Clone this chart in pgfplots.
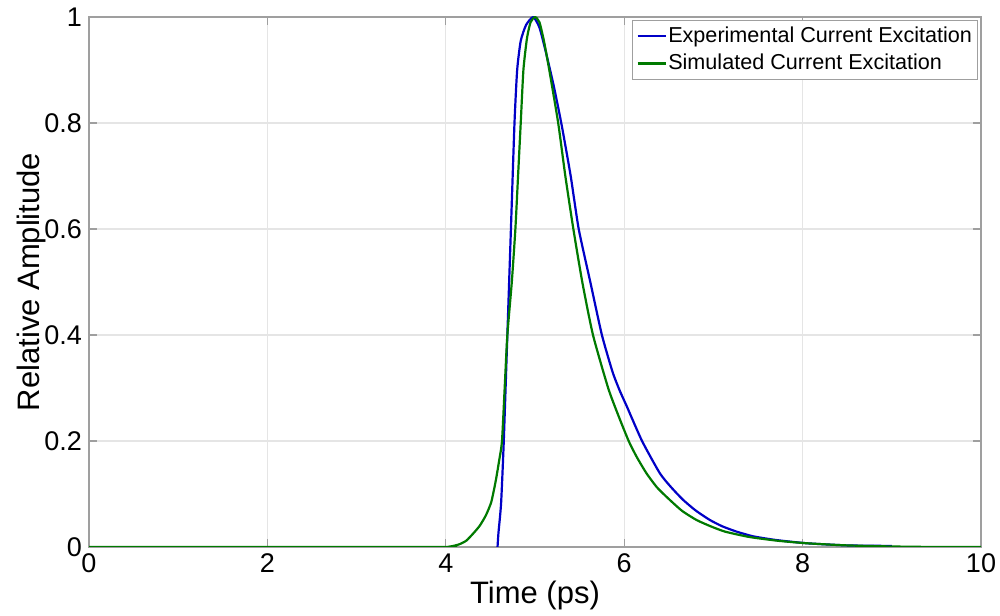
\documentclass[border=0pt]{standalone}
\usepackage{fontspec}
\setmainfont{Liberation Sans}
\usepackage{pgfplots}
\pgfplotsset{compat=1.18}
\definecolor{mblue}{rgb}{0,0,0.78}
\definecolor{mgreen}{rgb}{0,0.48,0}
\begin{document}
\begin{tikzpicture}
\begin{axis}[
  scale only axis, width=446pt, height=265pt,
  xmin=0, xmax=10, ymin=0, ymax=1,
  xtick={0,2,4,6,8,10}, ytick={0,0.2,0.4,0.6,0.8,1},
  grid=major, major grid style={gray!20, line width=0.6pt},
  axis line style={gray!75, line width=0.6pt},
  tick style={gray!75, line width=0.6pt}, tick align=inside, major tick length=4pt,
  /pgf/number format/assume math mode=true,
  ticklabel style={font=\fontsize{13.5}{13.5}\selectfont, text=black},
  xlabel={Time (ps)}, ylabel={Relative Amplitude},
  label style={font=\fontsize{15.5}{15.5}\selectfont},
  xlabel style={at={(axis description cs:0.5,0)}, anchor=center, yshift=-24pt},
  ylabel style={at={(axis description cs:-0.064,0.5)}, anchor=center},
  legend style={at={(1,1)}, anchor=north east, xshift=-1.5pt, yshift=-1.5pt,
    draw=gray!75, font=\fontsize{10.8}{12}\selectfont, inner xsep=2pt, inner ysep=2pt,
    row sep=2pt, nodes={inner xsep=0.8pt, inner ysep=1.2pt}},
  legend cell align=left,
  legend image code/.code={\draw[#1] (0pt,0pt) -- (14pt,0pt);},
]
\addplot[mblue, line width=1.1pt, smooth, tension=0.35] coordinates {
(4.58,0) (4.59,0.026) (4.62,0.083) (4.65,0.2) (4.69,0.4) (4.73,0.6) (4.77,0.8)
(4.80,0.9) (4.84,0.955) (4.90,0.985) (4.98,1.0) (5.05,0.98) (5.12,0.935)
(5.21,0.87) (5.30,0.795) (5.40,0.70) (5.49,0.6) (5.62,0.5) (5.75,0.4) (5.87,0.33)
(5.95,0.295) (6.03,0.265) (6.20,0.2) (6.40,0.139) (6.53,0.112) (6.66,0.089) (6.80,0.069) (6.96,0.051)
(7.10,0.039) (7.26,0.029) (7.45,0.02) (7.71,0.013) (8.05,0.007) (8.5,0.003) (9.0,0.002)
};
\addlegendentry{Experimental Current Excitation}
\addplot[mgreen, line width=1.1pt, smooth, tension=0.35] coordinates {
(0,0) (3.9,0) (4.05,0.001) (4.15,0.005) (4.23,0.012) (4.31,0.026) (4.38,0.04) (4.45,0.06) (4.51,0.085)
(4.56,0.125) (4.60,0.165) (4.63,0.2) (4.66,0.3) (4.69,0.4) (4.74,0.5) (4.78,0.6) (4.81,0.7)
(4.84,0.8) (4.87,0.9) (4.91,0.96) (4.95,0.99) (5.0,1.0) (5.05,0.99) (5.10,0.955)
(5.16,0.9) (5.26,0.8) (5.34,0.7) (5.43,0.6) (5.53,0.5) (5.65,0.4) (5.82,0.3)
(5.93,0.25) (6.05,0.2) (6.14,0.17) (6.25,0.139) (6.37,0.112) (6.51,0.089) (6.65,0.068)
(6.81,0.051) (6.97,0.039) (7.13,0.029) (7.4,0.019) (7.71,0.012) (8.05,0.007)
(8.5,0.003) (9.0,0.001) (9.5,0) (10,0)
};
\addlegendentry{Simulated Current Excitation}
\end{axis}
\pgfresetboundingbox
\path[use as bounding box] ([xshift=-44.5pt,yshift=-34pt]current axis.south west) rectangle ([xshift=9.5pt,yshift=8.5pt]current axis.north east);
\end{tikzpicture}
\end{document}
